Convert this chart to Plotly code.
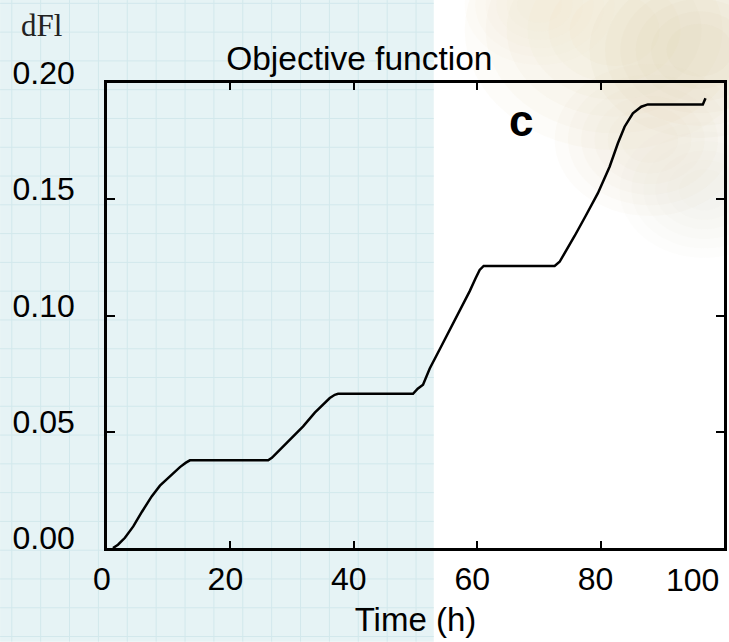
import plotly.graph_objects as go

# ---- data ----
time_h = [0.97, 1.78, 2.91, 4.26, 5.67, 7.24, 8.58, 10.20, 11.82, 12.79, 13.44,
          26.12, 26.72, 27.48, 29.64, 31.79, 33.68, 35.03, 36.11, 36.92, 37.46,
          49.60, 50.36, 51.22, 52.31, 53.93, 55.55, 57.17, 58.79, 59.76, 60.40, 61.05,
          72.55, 73.36, 74.33, 75.79, 77.57, 79.56, 81.46, 82.80, 83.89, 85.23, 86.59, 87.66,
          96.57, 97.00]
dfl = [0.0000, 0.0014, 0.0044, 0.0093, 0.0156, 0.0222, 0.0268, 0.0308, 0.0348, 0.0367, 0.0377,
       0.0377, 0.0388, 0.0408, 0.0466, 0.0523, 0.0582, 0.0616, 0.0645, 0.0659, 0.0663,
       0.0663, 0.0685, 0.0702, 0.0772, 0.0855, 0.0937, 0.1023, 0.1105, 0.1161, 0.1196, 0.1213,
       0.1213, 0.1231, 0.1274, 0.1342, 0.1428, 0.1526, 0.1640, 0.1741, 0.1812, 0.1870, 0.1898, 0.1908,
       0.1908, 0.1934]

x_tick_vals = [0, 20, 40, 60, 80, 100]
x_tick_text = ["0", "20", "40", "60", "80", ""]
y_tick_vals = [0.00, 0.05, 0.10, 0.15, 0.20]
y_tick_text = ["0.00", "0.05", "0.10", "0.15", "0.20"]

title_text = "Objective function"
x_title = "Time (h)"
y_label = "dFl"
panel_label = "c"
last_x_label = "100"

# ---- layout geometry (pixels) ----
W, H = 729, 642
L, R, T, B = 107, 724.5, 83, 548.3


def px(xp):
    return (xp - L) / (R - L)


def py(yp):
    return (B - yp) / (B - T)


SANS = "Liberation Sans, Arial, sans-serif"
SERIF = "Liberation Serif, Times New Roman, serif"

fig = go.Figure()
fig.add_trace(go.Scatter(x=time_h, y=dfl, mode="lines",
                         line=dict(color="black", width=2.5, shape="linear"),
                         showlegend=False, hoverinfo="skip"))

shapes = []
# faint blurred photo in the top-right corner (soft blobs built from stacked translucent circles)
for (cx, cy, r, col) in [(615, 30, 150, "#e6dbb6"), (700, 50, 110, "#d6d0a2"),
                         (540, 5, 75, "#ece3c6"), (705, 190, 85, "#e8e7d6"),
                         (650, 140, 95, "#e4dfc2")]:
    for k in range(6):
        rr = r * (1 - k * 0.14)
        shapes.append(dict(type="circle", xref="paper", yref="paper",
                           x0=px(cx - rr), x1=px(cx + rr), y0=py(cy + rr * 0.8), y1=py(cy - rr * 0.8),
                           fillcolor=col, opacity=0.08, line=dict(width=0), layer="below"))
# cyan slide background on the left with its grid
shapes.append(dict(type="rect", xref="paper", yref="paper", x0=px(0), x1=px(434),
                   y0=py(H), y1=py(0), fillcolor="#e6f3f5", line=dict(width=0), layer="below"))
g = 11.7
while g < 434:
    shapes.append(dict(type="line", xref="paper", yref="paper", x0=px(g), x1=px(g),
                       y0=py(H), y1=py(0), line=dict(color="#d2e8ec", width=1), layer="below"))
    g += 28.9
g = 3.3
while g < H:
    shapes.append(dict(type="line", xref="paper", yref="paper", x0=px(0), x1=px(434),
                       y0=py(g), y1=py(g), line=dict(color="#d2e8ec", width=1), layer="below"))
    g += 28.8

annotations = [
    dict(text=y_label, xref="paper", yref="paper", x=px(19), y=py(25), xanchor="left",
         yanchor="middle", showarrow=False, font=dict(family=SERIF, size=31, color="#222222")),
    dict(text="<b>" + panel_label + "</b>", xref="paper", yref="paper", x=px(521.5), y=py(121),
         xanchor="center", yanchor="middle", showarrow=False,
         font=dict(family=SANS, size=44, color="black")),
    dict(text=last_x_label, xref="paper", yref="paper", x=px(693), y=py(580),
         xanchor="center", yanchor="middle", showarrow=False,
         font=dict(family=SANS, size=32, color="black")),
]

axis_common = dict(showline=True, linecolor="black", linewidth=2.5, mirror="ticks",
                   ticks="inside", tickcolor="black", tickwidth=2, showgrid=False,
                   zeroline=False, automargin=False,
                   tickfont=dict(family=SANS, size=32, color="black"))

fig.update_layout(
    width=W, height=H,
    margin=dict(l=L, r=W - R, t=T, b=H - B, pad=0),
    paper_bgcolor="white", plot_bgcolor="rgba(0,0,0,0)",
    title=dict(text=title_text, x=px(359.5), xref="paper", xanchor="center",
               y=1 - 58 / H, yref="container", yanchor="middle",
               font=dict(family=SANS, size=33.5, color="black"), automargin=False),
    xaxis=dict(range=[0, 100], tickvals=x_tick_vals, ticktext=x_tick_text, ticklen=7,
               ticklabelshift=-5, ticklabelstandoff=1,
               title=dict(text=x_title, font=dict(family=SANS, size=33, color="black"), standoff=12),
               **axis_common),
    yaxis=dict(range=[0, 0.2], tickvals=y_tick_vals, ticktext=y_tick_text, ticklen=8,
               ticklabelshift=-10, ticklabelstandoff=23, **axis_common),
    shapes=shapes, annotations=annotations,
)

fig.write_html("out.html", config={"displayModeBar": False},
               post_script="document.body.style.margin='0';document.body.style.overflow='hidden';")
